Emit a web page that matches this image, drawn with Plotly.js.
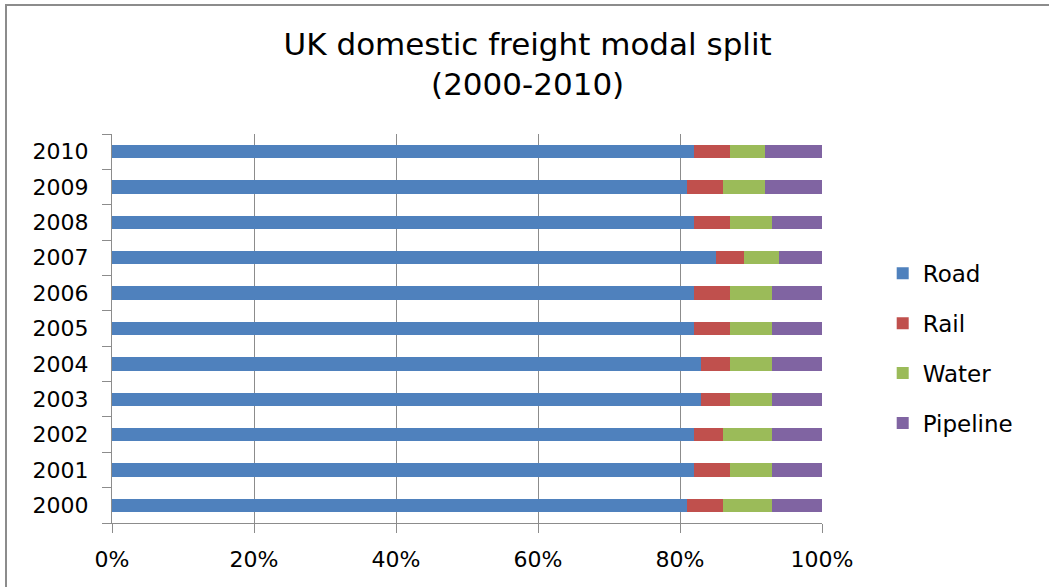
<!DOCTYPE html>
<html>
<head>
<meta charset="utf-8">
<script src="https://cdn.plot.ly/plotly-3.0.1.min.js"></script>
<style>
  html, body { margin: 0; padding: 0; background: #fff; }
  #wrap { position: relative; width: 1049px; height: 587px; overflow: hidden; }
  #frame { position: absolute; left: 5px; top: 4px; width: 1100px; height: 700px;
           border-left: 2px solid #8c8c8c; border-top: 2px solid #8c8c8c; pointer-events: none; }
  #plot { position: absolute; left: 0; top: 0; width: 1049px; height: 587px; }
</style>
</head>
<body>
<div id="wrap">
  <div id="plot"></div>
  <div id="frame"></div>
</div>
<script>
const years = ['2000','2001','2002','2003','2004','2005','2006','2007','2008','2009','2010'];
const road     = [81, 82, 82, 83, 83, 82, 82, 85, 82, 81, 82];
const rail     = [5, 5, 4, 4, 4, 5, 5, 4, 5, 5, 5];
const water    = [7, 6, 7, 6, 6, 6, 6, 5, 6, 6, 5];
const pipeline = [7, 7, 7, 7, 7, 7, 7, 6, 7, 8, 8];
const seriesNames = ['Road', 'Rail', 'Water', 'Pipeline'];
const seriesColors = ['#4F81BD', '#C0504D', '#9BBB59', '#8064A2'];
const seriesData = [road, rail, water, pipeline];

const traces = seriesData.map((vals, i) => ({
  type: 'bar',
  orientation: 'h',
  name: seriesNames[i],
  legendgroup: seriesNames[i],
  x: vals,
  y: years,
  marker: { color: seriesColors[i], line: { width: 0 } },
  hoverinfo: 'x+y+name'
}));

const fontTick = { family: 'DejaVu Sans, sans-serif', size: 22, color: '#000' };

const layout = {
  width: 1049,
  height: 587,
  paper_bgcolor: '#fff',
  plot_bgcolor: '#fff',
  barmode: 'stack',
  bargap: 0.62,
  margin: { l: 112, r: 227, t: 134, b: 64, pad: 0 },
  title: {
    text: 'UK domestic freight modal split<br>(2000-2010)',
    x: 0.503,
    xanchor: 'center',
    y: 1 - 55 / 587,
    yanchor: 'top',
    yref: 'container',
    font: { family: 'DejaVu Sans, sans-serif', size: 31, color: '#000' }
  },
  xaxis: {
    range: [0, 100],
    dtick: 20,
    tick0: 0,
    ticksuffix: '%',
    showgrid: true,
    gridcolor: '#8c8c8c',
    gridwidth: 1,
    zeroline: false,
    showline: true,
    linecolor: '#8c8c8c',
    linewidth: 1,
    ticks: 'outside',
    ticklen: 9,
    tickcolor: '#8c8c8c',
    tickfont: fontTick,
    ticklabelstandoff: 8,
    fixedrange: true
  },
  yaxis: {
    type: 'category',
    categoryorder: 'array',
    categoryarray: years,
    showgrid: false,
    zeroline: false,
    showline: true,
    linecolor: '#8c8c8c',
    linewidth: 1,
    ticks: 'outside',
    tickson: 'boundaries',
    ticklen: 9,
    tickcolor: '#8c8c8c',
    tickfont: fontTick,
    ticklabelstandoff: 18,
    fixedrange: true
  },
  showlegend: true,
  legend: {
    x: 1.0855,
    xanchor: 'left',
    y: 0.697,
    yanchor: 'top',
    traceorder: 'grouped',
    tracegroupgap: 17,
    itemwidth: 30,
    font: { family: 'DejaVu Sans, sans-serif', size: 23, color: '#000' },
    bgcolor: 'rgba(0,0,0,0)'
  }
};

Plotly.newPlot('plot', traces, layout, { displayModeBar: false, staticPlot: true });
</script>
</body>
</html>
